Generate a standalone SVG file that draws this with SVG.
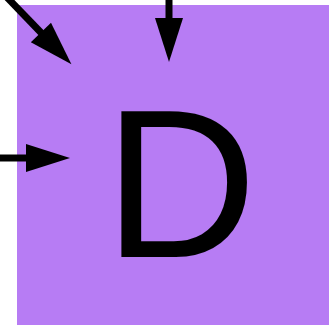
<svg xmlns="http://www.w3.org/2000/svg" width="329" height="325" viewBox="0 0 329 325">
<style>
.node{fill:#b77cf4}
.lbl{font-family:"Liberation Sans",Arial,sans-serif;font-size:212px;fill:#000}
.conn{stroke:#000;stroke-width:7;fill:none}
</style>
<defs>
<marker id="ah" markerUnits="userSpaceOnUse" markerWidth="50" markerHeight="32" viewBox="0 -16 50 32" refX="1" refY="0" orient="auto" overflow="visible">
<path d="M0,-14 L44,0 L0,14 z" fill="#000"/>
</marker>
</defs>
<rect width="329" height="325" fill="#fff"/>
<g id="node-D">
<rect class="node" x="17" y="5" width="320" height="330"/>
<text class="lbl" x="104" y="257">D</text>
</g>
<g id="connectors">
<line class="conn" x1="-2" y1="-12" x2="41.6" y2="33.3" marker-end="url(#ah)"/>
<line class="conn" x1="169" y1="-5" x2="169" y2="19" marker-end="url(#ah)"/>
<line class="conn" x1="-5" y1="158" x2="27" y2="158" marker-end="url(#ah)"/>
</g>
</svg>
